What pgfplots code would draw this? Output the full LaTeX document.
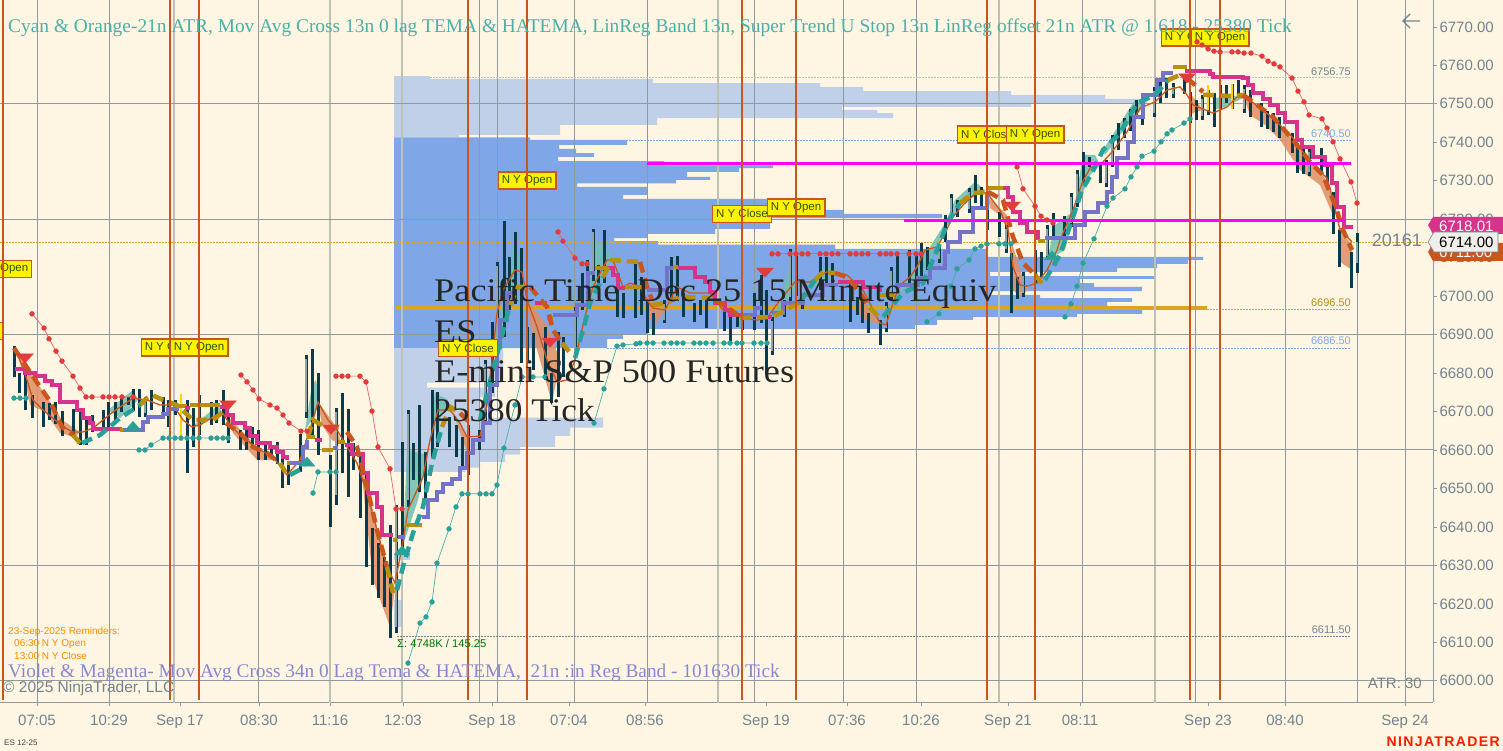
\documentclass[border=0pt]{standalone}
\usepackage{fontspec}
\usepackage{pgfplots}
\usepackage{pgfplotstable}
\pgfplotsset{compat=1.18}
\setmainfont{Liberation Sans}
\newfontfamily\serif{Liberation Serif}

\definecolor{bgc}{HTML}{FEF6E2}
\definecolor{gridd}{HTML}{8E9AA0}
\definecolor{gridl}{HTML}{BDC0B4}
\definecolor{tickc}{HTML}{73838F}
\definecolor{volb}{HTML}{7FA7E8}
\definecolor{voll}{HTML}{BFD0E8}
\definecolor{poc}{HTML}{DAA520}
\definecolor{cand}{HTML}{0B3A4A}
\definecolor{candg}{HTML}{8FA5A8}
\definecolor{sess}{HTML}{C9561F}
\definecolor{mag}{HTML}{D6338A}
\definecolor{vio}{HTML}{7373C9}
\definecolor{gold}{HTML}{B8900B}
\definecolor{tealc}{HTML}{2AA198}
\definecolor{redc}{HTML}{E33B3B}
\definecolor{peach}{HTML}{E08F62}
\definecolor{tealf}{HTML}{6FBFB0}
\definecolor{pure}{HTML}{FF00FF}
\definecolor{yel}{HTML}{FFD500}
\definecolor{boxt}{HTML}{2F5200}

\pgfplotsset{
  vbars/.style={draw=none, no marks, forget plot,
    error bars/y dir=both, error bars/y explicit, error bars/error mark=none,
    error bars/error bar style={#1}},
  stairm/.style={const plot, draw=mag, line width=4.5pt},
  stairv/.style={const plot, draw=vio, line width=4.5pt},
  stairg/.style={const plot, draw=gold, line width=4.5pt},
  dasho/.style={draw=sess, line width=4.5pt, dash pattern=on 11pt off 6pt},
  dasht/.style={draw=tealc, line width=4.5pt, dash pattern=on 11pt off 6pt},
  dashg/.style={draw=gold, line width=4.5pt, dash pattern=on 11pt off 6pt},
  reddots/.style={draw=redc!80, line width=.7pt, mark=*, mark size=2.3pt, mark options={fill=redc, draw=redc}},
  tealdots/.style={draw=tealc!85, line width=.7pt, mark=*, mark size=2.3pt, mark options={fill=tealc, draw=tealc}},
  fo/.style={fill=peach, draw=none, opacity=.85},
  ft/.style={fill=tealf, draw=none, opacity=.85},
  lvl/.style={line width=.8pt, dash pattern=on 1.5pt off 1.5pt},
}

% grid and session lines
\pgfplotstableread{
x lo hi
37 6594.35 6777
109 6594.35 6777
258 6594.35 6777
479 6594.35 6777
497 6594.35 6777
574 6594.35 6777
647 6594.35 6777
754 6594.35 6777
843 6594.35 6777
916 6594.35 6777
1082 6594.35 6777
1195 6594.35 6777
1285 6594.35 6777
1357 6594.35 6777
1405 6594.35 6777
}\griddark
\pgfplotstableread{
x lo hi
174 6594.35 6777
330 6594.35 6777
402 6594.35 6777
718 6594.35 6777
999 6594.35 6777
1155 6594.35 6777
}\gridlight
\pgfplotstableread{
x lo hi
3 6595 6777
170 6595 6777
199 6595 6777
468 6595 6777
527 6595 6777
742 6595 6777
796 6595 6777
987 6595 6777
1035 6595 6777
1190 6595 6777
1220 6595 6777
}\sessions

\pgfplotstableread{
x lo hi
14 6679.0 6687.3
19 6674.8 6680.0
25 6670.4 6680.8
32 6668.3 6674.3
43 6666.0 6672.5
49 6667.8 6672.2
55 6667.0 6672.5
62 6663.9 6670.4
73 6663.4 6670.9
80 6661.3 6669.9
86 6661.3 6668.6
92 6664.7 6669.1
103 6665.2 6670.4
108 6665.7 6672.5
115 6667.8 6672.5
121 6669.9 6673.8
128 6671.7 6673.8
133 6670.4 6676.1
139 6668.6 6676.1
145 6668.6 6673.8
151 6670.4 6675.6
163 6669.6 6673.8
168 6666.0 6673.0
175 6669.1 6673.0
187 6654.0 6673.0
193 6660.8 6670.9
199 6663.9 6674.3
211 6666.5 6672.5
216 6667.0 6673.0
223 6666.5 6675.6
228 6661.8 6669.6
240 6660.0 6665.2
246 6660.0 6665.2
252 6660.8 6666.0
258 6657.4 6665.2
265 6657.4 6661.8
271 6658.2 6661.3
277 6656.6 6662.1
282 6650.1 6660.0
288 6650.9 6656.9
300 6654.3 6664.4
306 6668.3 6684.7
312 6663.4 6686.5
318 6658.7 6680.0
330 6640.0 6658.7
336 6645.7 6670.9
342 6654.0 6674.8
348 6647.8 6670.9
353 6654.8 6661.8
360 6642.3 6659.5
366 6629.6 6654.0
372 6624.9 6639.7
378 6621.5 6635.8
384 6619.2 6632.2
390 6611.1 6640.5
396 6612.4 6645.7
402 6633.2 6662.1
408 6645.2 6670.4
413 6652.2 6661.8
419 6649.1 6671.7
425 6646.2 6659.5
432 6658.2 6675.6
437 6660.8 6675.1
449 6660.8 6668.6
456 6658.2 6666.5
462 6655.6 6663.4
468 6653.5 6666.5
479 6660.0 6665.2
485 6667.0 6683.4
492 6674.8 6693.3
497 6683.4 6708.9
504 6689.4 6719.5
509 6696.4 6710.2
515 6698.2 6716.7
521 6682.6 6712.5
527 6682.6 6692.0
533 6680.8 6690.4
545 6678.2 6692.0
551 6672.2 6680.0
558 6673.8 6690.7
563 6679.0 6689.4
575 6684.2 6697.2
582 6696.4 6706.0
587 6699.0 6709.4
593 6704.2 6717.7
598 6702.4 6708.1
604 6703.4 6717.2
617 6694.6 6702.4
623 6694.3 6700.8
635 6694.3 6708.6
641 6695.1 6705.0
647 6690.4 6699.0
653 6689.9 6695.6
664 6693.0 6699.0
671 6699.0 6710.2
677 6699.0 6710.7
683 6694.6 6700.8
694 6693.3 6698.2
700 6695.1 6699.0
706 6691.7 6699.0
724 6690.9 6697.2
730 6688.1 6695.6
737 6692.0 6694.6
742 6691.2 6694.6
754 6691.2 6700.8
761 6693.0 6705.5
766 6679.5 6701.6
772 6684.7 6694.6
784 6694.6 6699.0
790 6699.0 6712.5
796 6700.3 6711.2
802 6696.9 6699.0
820 6701.6 6710.2
826 6702.4 6710.2
832 6702.4 6708.6
850 6693.3 6703.4
857 6695.1 6699.8
862 6693.0 6699.8
868 6690.4 6695.6
880 6687.3 6693.8
886 6690.7 6698.5
891 6699.0 6707.6
897 6703.4 6711.5
909 6702.4 6712.0
916 6704.2 6710.7
921 6704.2 6713.8
927 6706.8 6712.8
939 6708.6 6712.8
945 6714.1 6721.1
951 6719.8 6726.6
957 6720.6 6725.0
969 6721.6 6728.1
975 6724.2 6731.5
981 6723.2 6728.4
987 6717.2 6725.0
999 6715.4 6721.9
1006 6711.2 6718.5
1011 6695.6 6711.2
1017 6699.5 6705.0
1023 6699.8 6706.3
1035 6703.4 6712.0
1041 6705.0 6711.5
1047 6709.4 6718.5
1053 6715.4 6721.6
1064 6715.4 6721.1
1071 6718.0 6726.8
1077 6723.2 6732.8
1083 6729.4 6737.5
1089 6733.6 6736.2
1100 6729.4 6734.1
1106 6728.4 6735.4
1112 6733.6 6741.9
1118 6738.0 6745.0
1124 6741.1 6746.3
1130 6743.2 6748.9
1136 6746.6 6751.0
1142 6744.5 6749.2
1154 6746.8 6754.4
1160 6750.2 6756.2
1166 6751.5 6756.7
1173 6751.5 6755.4
1184 6752.8 6756.7
1190 6745.0 6753.1
1196 6745.8 6751.0
1202 6745.8 6752.3
1208 6747.1 6753.6
1214 6744.0 6752.8
1220 6748.4 6754.9
1226 6750.2 6754.9
1232 6748.9 6755.4
1238 6751.5 6756.2
1244 6747.6 6754.9
1250 6746.6 6753.6
1261 6744.0 6750.2
1267 6743.7 6748.4
1273 6742.7 6747.6
1279 6741.1 6746.6
1292 6737.2 6742.4
1297 6732.0 6739.8
1303 6732.0 6739.3
1309 6731.2 6738.5
1321 6732.3 6738.5
1327 6729.4 6733.6
1333 6716.4 6727.1
1339 6707.6 6717.2
1351 6702.1 6711.5
1357 6706.0 6716.4
}\candles

\pgfplotstableread{
x lo hi
145 6669.6 6672.8
306 6670 6683.7
336 6648.5 6669.9
396 6614 6644.7
408 6647 6669.4
485 6668 6682.4
497 6685 6707.9
575 6685.5 6696.2
593 6705.5 6716.7
664 6694 6698
772 6685.7 6693.6
790 6700 6711.5
886 6691.7 6697.5
891 6700 6706.6
939 6709.6 6711.8
951 6720.8 6725.6
969 6722.6 6727.1
1006 6712.2 6717.5
1023 6700.8 6705.3
1035 6704.4 6711
1047 6710.4 6717.5
1071 6719 6725.8
1077 6724.2 6731.8
1106 6729.4 6734.4
1112 6734.6 6740.9
1154 6747.8 6753.4
1173 6752.5 6754.4
1202 6746.8 6751.3
1220 6749.4 6753.9
1244 6748.6 6753.9
1309 6732.2 6737.5
1357 6708.6 6714.1
}\bodies

\pgfplotstableread{
x lo hi
181 6662.3 6674.6
1208 6748.5 6754.9
1232 6748.9 6755.4
}\yellowbars

\begin{document}
\begin{tikzpicture}
\path[use as bounding box] (0,0) rectangle (1503pt,751pt);
\clip (0,0) rectangle (1503pt,751pt);
\fill[bgc] (0,0) rectangle (1503pt,751pt);
\begin{axis}[
    at={(0pt,48.5pt)}, anchor=south west,
    scale only axis, width=1433pt, height=702.5pt,
    xmin=0, xmax=1433, ymin=6594.35, ymax=6777,
    axis x line*=bottom, axis y line*=right,
    axis line style={draw=gridd, line width=1pt},
    tick style={draw=gridd, line width=.8pt},
    tick align=outside, major tick length=4pt,
    xtick={37,109,180,259,330,403,492,569,645,766,847,921,1008,1080,1208,1285,1405},
    xticklabels={07:05,10:29,Sep 17,08:30,11:16,12:03,Sep 18,07:04,08:56,Sep 19,07:36,10:26,Sep 21,08:11,Sep 23,08:40,Sep 24},
    ytick={6600,6610,...,6770},
    tick label style={font=\fontsize{15}{15}\selectfont, text=tickc},
    xticklabel style={yshift=-5pt},
    yticklabel style={xshift=-1pt},
    /pgf/number format/.cd, fixed, fixed zerofill, precision=2, 1000 sep={}, assume math mode=true,
]
% volume profile, upper and lower value area shades
\addplot[const plot mark right, fill=voll, draw=none] coordinates {
(394,6757.2)(430,6757.2)(653,6756.5)(820,6755.4)(863,6754.4)(1011,6753.3)(1105,6752.3)(1147,6751.3)(1031,6750.2)(842,6749.2)(877,6748.4)(893,6747.6)(657,6746.3)(560,6744.5)(459,6741.9)(394,6741.3)};
\addplot[const plot mark right, fill=volb, draw=none] coordinates {
(394,6741.3)(530,6741.3)(627,6740.6)(559,6739.3)(576,6738.3)(594,6737.2)(558,6736.2)(664,6735.1)(773,6734)(739,6733.3)(687,6732.3)(710,6731)(676,6730.2)(577,6729.3)(647,6728.4)(623,6726.3)(770,6725.3)(823,6724)(843,6722.4)(942,6721.4)(770,6720.3)(715,6717.5)(647,6716.2)(614,6715.1)(658,6714.3)(835,6713.4)(987,6712.3)(1203,6710.2)(1188,6709.4)(1157,6708.4)(1117,6707.3)(990,6706.3)(1154,6705.2)(1080,6704.5)(1094,6703.4)(1142,6702.4)(990,6701.3)(1040,6700.3)(1132,6699.5)(1107,6698.5)(1107,6697.2)(1142,6696.4)(1077,6695.4)(973,6694.6)(937,6693.8)(915,6692.5)(647,6691.5)(623,6690.2)(607,6688.9)(394,6686.5)};
\addplot[const plot mark right, fill=voll, draw=none] coordinates {
(394,6686.5)(503,6686.5)(427,6677.5)(495,6676.2)(480,6673.8)(603,6668.4)(570,6665.8)(555,6663.7)(520,6660.8)(505,6658.8)(480,6656.9)(465,6655.4)(394,6654.3)};
\addplot[const plot mark right, fill=voll, draw=none] coordinates {(394,6633.2)(410,6633.2)(394,6631.4)};
\addplot[const plot mark right, fill=voll, draw=none] coordinates {(394,6621)(402,6621)(394,6614)};
% point of control
\addplot[draw=poc, line width=4pt] coordinates {(395,6696.9)(1207,6696.9)};
% grid
\addplot[vbars={draw=gridd, line width=1pt}] table[x=x, y expr=(\thisrow{lo}+\thisrow{hi})/2, y error expr=(\thisrow{hi}-\thisrow{lo})/2] {\griddark};
\addplot[vbars={draw=gridl, line width=1.6pt}] table[x=x, y expr=(\thisrow{lo}+\thisrow{hi})/2, y error expr=(\thisrow{hi}-\thisrow{lo})/2] {\gridlight};
\addplot[draw=gridd, line width=1pt] coordinates {(0,6600)(1433,6600)};
\addplot[draw=gridd, line width=1pt] coordinates {(0,6630)(1433,6630)};
\addplot[draw=gridd, line width=1pt] coordinates {(0,6660)(1433,6660)};
\addplot[draw=gridd, line width=1pt] coordinates {(0,6690)(1433,6690)};
\addplot[draw=gridd, line width=1pt] coordinates {(0,6720)(1433,6720)};
\addplot[draw=gridd, line width=1pt] coordinates {(0,6750)(1433,6750)};
% key levels
\addplot[lvl, draw=poc] coordinates {(0,6714)(1433,6714)};
\addplot[lvl, draw=gridl] coordinates {(430,6756.75)(1351,6756.75)};
\addplot[lvl, draw=volb] coordinates {(530,6740.5)(1351,6740.5)};
\addplot[lvl, draw=poc] coordinates {(1207,6696.5)(1351,6696.5)};
\addplot[lvl, draw=volb] coordinates {(607,6686.5)(1351,6686.5)};
\addplot[lvl, draw=tickc] coordinates {(397,6611.5)(1351,6611.5)};
% band fills
\addplot[fo] coordinates {(15,6686.5)(40,6676.4)(62,6667.8)(80,6664.7)(75,6663.4)(60,6664.4)(45,6669.9)(30,6671.7)(24,6679.5)};
\addplot[fo] coordinates {(228,6668.6)(257,6660.8)(280,6656.6)(277,6657.4)(257,6657.4)(233,6664.4)};
\addplot[fo] coordinates {(318,6672.5)(335,6666.5)(342,6661.3)(332,6662.6)(322,6666.5)};
\addplot[fo] coordinates {(358,6660.8)(387,6628.8)(395,6624.1)(390,6614)(373,6626.2)(363,6650.4)};
\addplot[fo] coordinates {(453,6669.9)(469,6662.6)(467,6659.5)(460,6664.7)};
\addplot[fo] coordinates {(527,6699)(547,6692.5)(560,6683.4)(552,6672.2)(540,6683.4)(530,6692.5)};
\addplot[fo] coordinates {(647,6699)(665,6696.4)(655,6692.5)(650,6693.8)};
\addplot[fo] coordinates {(860,6699.5)(882,6692.5)(865,6693.8)(855,6696.4)};
\addplot[fo] coordinates {(1011,6714.6)(1025,6702.9)(1028,6701.6)(1020,6699.8)(1013,6701.6)};
\addplot[fo] coordinates {(988,6725.8)(1007,6721.1)(1010,6715.9)(1000,6721.1)(990,6722.9)};
\addplot[fo] coordinates {(1190,6752.8)(1203,6748.4)(1195,6747.9)(1190,6747.1)};
\addplot[fo] coordinates {(1243,6752.3)(1273,6746.6)(1293,6740.6)(1310,6734.9)(1325,6730.7)(1335,6723.7)(1335,6719.8)(1320,6728.9)(1300,6732.8)(1280,6740.6)(1265,6744.5)(1250,6747.1)};
\addplot[fo] coordinates {(1338,6717.7)(1352,6713.3)(1352,6706.8)(1340,6708.9)};
\addplot[ft] coordinates {(108,6670.4)(133,6675.6)(138,6673)(120,6668.3)};
\addplot[ft] coordinates {(192,6666)(218,6671.7)(222,6669.9)(200,6666.5)};
\addplot[ft] coordinates {(305,6665.2)(312,6676.9)(316,6678.2)(320,6672.5)(312,6667.8)};
\addplot[ft] coordinates {(403,6635.3)(407,6660)(428,6658.7)(418,6647)};
\addplot[ft] coordinates {(430,6662.6)(435,6674.8)(448,6673)(440,6667.8)};
\addplot[ft] coordinates {(494,6686)(505,6701.6)(515,6715.9)(520,6708.1)(505,6693.8)};
\addplot[ft] coordinates {(587,6701.6)(595,6714.6)(605,6713.3)(612,6709.9)(600,6704.2)(590,6697.7)};
\addplot[ft] coordinates {(775,6695.1)(790,6708.1)(795,6701.6)(785,6697.7)};
\addplot[ft] coordinates {(810,6702.9)(825,6708.1)(835,6706.8)(820,6702.9)};
\addplot[ft] coordinates {(893,6699)(925,6710.7)(945,6719)(955,6725)(975,6729.7)(985,6727.6)(960,6723.7)(945,6717.2)(925,6706.8)};
\addplot[ft] coordinates {(1047,6709.4)(1055,6718.5)(1075,6722.4)(1065,6712)};
\addplot[ft] coordinates {(1073,6721.1)(1083,6736.7)(1095,6736.7)(1100,6734.1)(1090,6731.5)(1080,6725)};
\addplot[ft] coordinates {(1103,6738)(1135,6751)(1145,6749.7)(1120,6741.9)(1105,6736.7)};
\addplot[ft] coordinates {(1213,6751.5)(1235,6752)(1243,6751.5)(1225,6749.2)(1213,6748.4)};
% candles
\addplot[vbars={draw=cand, line width=3pt}] table[x=x, y expr=(\thisrow{lo}+\thisrow{hi})/2, y error expr=(\thisrow{hi}-\thisrow{lo})/2] {\candles};
\addplot[vbars={draw=candg, line width=1.6pt}] table[x=x, y expr=(\thisrow{lo}+\thisrow{hi})/2, y error expr=(\thisrow{hi}-\thisrow{lo})/2] {\bodies};
\addplot[vbars={draw=yel, line width=2.6pt}] table[x=x, y expr=(\thisrow{lo}+\thisrow{hi})/2, y error expr=(\thisrow{hi}-\thisrow{lo})/2] {\yellowbars};
% fast average
\addplot[draw=sess, line width=1.3pt] coordinates {
(15,6686.5)(25,6680)(33,6673)(43,6670.4)(55,6667.8)(63,6666)(73,6664.7)(83,6664.7)(93,6665.7)(103,6667.8)(113,6669.9)(123,6671.7)(133,6673.5)(147,6673)(160,6671.7)(173,6671.7)(183,6667.8)(192,6666)(200,6666.5)(213,6668.6)(223,6669.6)(230,6666.5)(240,6663.9)(257,6660.5)(273,6658.2)(287,6653.5)(300,6657.4)(313,6667.8)(318,6672.5)(328,6667.8)(337,6665.2)(347,6660.8)(357,6656.6)(367,6648.8)(377,6639.2)(387,6629.6)(395,6625.4)(402,6634.8)(408,6644.4)(423,6653)(430,6662.6)(438,6670.4)(450,6670.4)(460,6667)(467,6663.4)(480,6663.6)(487,6671.7)(492,6683.4)(497,6695.6)(503,6701.6)(515,6706.8)(522,6706.3)(527,6699)(537,6692)(547,6683.4)(557,6677.7)(567,6678.2)(575,6683.4)(585,6694.6)(593,6702.4)(607,6709.4)(613,6709.4)(623,6702.4)(630,6703.4)(640,6702.4)(647,6699)(653,6696.9)(665,6696.4)(677,6702.4)(690,6700.8)(710,6700.8)(723,6696.4)(743,6694.3)(757,6693.8)(767,6694.3)(780,6699)(795,6703.7)(810,6703.7)(827,6706.3)(847,6705.5)(863,6701.6)(880,6693)(886,6692.5)(893,6698.2)(900,6702.9)(910,6705)(917,6707.6)(925,6712)(937,6712.8)(945,6716.4)(953,6720.6)(963,6723.7)(977,6727.1)(987,6726.8)(1000,6722.4)(1008,6717.2)(1013,6707.6)(1020,6702.9)(1027,6702.6)(1037,6703.4)(1047,6706.8)(1057,6712)(1060,6714.6)(1073,6722.4)(1082,6729.4)(1090,6733.3)(1102,6734.6)(1112,6737.5)(1127,6742.7)(1140,6748.9)(1155,6750.5)(1167,6753.6)(1180,6754.4)(1187,6752.3)(1193,6749.7)(1213,6747.6)(1227,6749.2)(1237,6751.8)(1247,6751.5)(1273,6746.3)(1293,6741.1)(1310,6734.9)(1327,6730.7)(1333,6725)(1340,6717.2)(1352,6714.1)};
% slow stair band
\addplot[stairm] coordinates {(15,6681.1)(25,6680)(35,6679.2)(45,6677.9)(52,6676.9)(60,6672.5)(77,6670.4)(83,6668.3)(90,6667)(93,6665.5)(120,6665.2)};
\addplot[stairg] coordinates {(120,6665.2)(123,6665.2)};
\addplot[stairv] coordinates {(123,6665.2)(143,6667.3)(148,6668.6)(163,6669.4)(168,6670.7)(177,6670.9)};
\addplot[stairg] coordinates {(177,6671.4)(187,6671.4)};
\addplot[stairm] coordinates {(185,6670.9)(190,6670.9)};
\addplot[stairg] coordinates {(190,6671.7)(220,6671.7)};
\addplot[stairm] coordinates {(220,6671.2)(227,6669.1)(233,6667)(245,6665.7)(250,6663.6)(257,6661.8)(270,6660.8)(277,6659.5)(283,6658.2)(287,6657.4)};
\addplot[stairg] coordinates {(287,6656.6)(290,6656.6)};
\addplot[stairv] coordinates {(290,6656.6)(303,6660.8)(307,6662.6)};
\addplot[stairg] coordinates {(307,6663.4)(315,6663.4)};
\addplot[stairm] coordinates {(315,6662.6)(322,6662.6)};
\addplot[stairg] coordinates {(322,6660)(333,6660)};
\addplot[stairv] coordinates {(333,6660.5)(338,6660.5)};
\addplot[stairg] coordinates {(338,6662.1)(345,6662.1)};
\addplot[stairm] coordinates {(345,6661.3)(352,6659)(363,6654)(368,6648.8)(377,6645.2)(382,6637.9)(393,6637.9)};
\addplot[stairg] coordinates {(393,6636.6)(398,6636.6)};
\addplot[stairv] coordinates {(398,6637.4)(405,6637.4)};
\addplot[stairg] coordinates {(405,6640.5)(422,6640.5)};
\addplot[stairv] coordinates {(422,6642.6)(428,6647)(437,6649.1)(443,6651.2)(452,6652.5)(460,6655.3)(467,6659.2)(473,6662.6)(483,6667)(490,6676.9)(497,6686.8)(500,6693.8)(507,6700.8)(515,6700.8)};
\addplot[stairm] coordinates {(535,6698.2)(547,6698.2)};
\addplot[stairg] coordinates {(547,6694.3)(553,6694.3)};
\addplot[stairv] coordinates {(553,6695.1)(577,6697.7)(588,6706)(595,6706)};
\addplot[stairg] coordinates {(595,6707.3)(607,6707.3)};
\addplot[stairm] coordinates {(607,6707.3)(613,6705.5)(618,6702.1)(625,6702.1)};
\addplot[stairg] coordinates {(625,6702.4)(647,6702.4)};
\addplot[stairv] coordinates {(647,6701.6)(667,6707.3)(673,6707.3)};
\addplot[stairg] coordinates {(673,6707.6)(678,6707.6)};
\addplot[stairm] coordinates {(678,6707.3)(695,6705)(705,6703.7)(710,6701.1)(715,6698.2)(725,6696.4)(730,6695.1)(743,6695.1)};
\addplot[stairv] coordinates {(743,6695.1)(755,6696.9)(762,6696.9)};
\addplot[stairm] coordinates {(762,6694.6)(772,6694.6)};
\addplot[stairv] coordinates {(772,6695.6)(783,6698.2)(803,6700.3)(823,6702.9)(838,6702.9)};
\addplot[stairm] coordinates {(838,6703.7)(863,6702.4)(880,6701.1)};
\addplot[stairg] coordinates {(880,6700.3)(895,6700.3)};
\addplot[stairv] coordinates {(895,6702.9)(918,6704.7)(930,6707.3)(945,6711.5)(948,6714.1)(960,6716.7)(973,6722.9)(987,6726.8)};
\addplot[stairg] coordinates {(987,6728.1)(1003,6728.1)};
\addplot[stairm] coordinates {(1003,6728.1)(1008,6725.8)(1013,6721.9)(1020,6719)(1027,6716.7)(1038,6714.6)};
\addplot[stairg] coordinates {(1038,6714.3)(1045,6714.3)};
\addplot[stairv] coordinates {(1045,6715.1)(1075,6718.5)(1085,6721.9)(1098,6724.2)(1107,6727.1)(1112,6731)(1117,6735.9)(1128,6740.1)(1134,6746.6)(1143,6752.3)(1157,6756.2)(1163,6758)(1173,6758)};
\addplot[stairg] coordinates {(1173,6759.6)(1187,6759.6)};
\addplot[stairm] coordinates {(1185,6758.5)(1210,6757.8)(1213,6757)(1243,6756.7)(1248,6754.9)(1253,6752.8)(1263,6751.3)(1270,6749.7)(1278,6747.6)(1285,6745.3)(1297,6740.6)(1302,6738.8)(1313,6736.2)(1325,6734.1)(1332,6729.4)(1337,6723.2)(1344,6718)(1353,6718)};
% dashed average
\addplot[dasho] coordinates {(14,6686.5)(40,6676.4)(50,6672.7)(62,6666)(73,6663.9)};
\addplot[dashg] coordinates {(73,6663.9)(80,6661.8)};
\addplot[dasht] coordinates {(82,6661.8)(100,6663.9)(120,6668.3)(140,6671.7)};
\addplot[dashg] coordinates {(140,6671.7)(147,6673.5)(152,6674.3)(163,6673)(177,6671.7)(193,6667.8)(213,6667.8)(223,6669.9)};
\addplot[dasho] coordinates {(226,6667)(240,6664.4)(253,6660.8)(267,6659.2)(280,6656.6)};
\addplot[dashg] coordinates {(280,6656.6)(287,6653.5)};
\addplot[dasht] coordinates {(290,6653.5)(305,6655.6)};
\addplot[dashg] coordinates {(308,6663.4)(313,6667.8)(325,6666)(340,6666)};
\addplot[dasho] coordinates {(347,6664.7)(357,6660.8)(367,6650.4)(377,6639.2)(387,6629.6)};
\addplot[dashg] coordinates {(387,6629.6)(393,6622.8)};
\addplot[dasht] coordinates {(397,6623.6)(403,6629.6)(413,6638.4)(423,6645.2)(432,6656.6)(442,6666)};
\addplot[dashg] coordinates {(442,6666)(450,6671.2)(460,6669.6)};
\addplot[dasho] coordinates {(460,6669.6)(470,6667)};
\addplot[dasht] coordinates {(480,6667.8)(487,6674.8)(500,6687.8)(510,6697.7)};
\addplot[dashg] coordinates {(510,6697.7)(518,6702.4)(530,6702.4)};
\addplot[dasho] coordinates {(530,6702.4)(547,6697.2)(553,6691.2)(562,6687.8)};
\addplot[dashg] coordinates {(562,6687.8)(572,6684.7)};
\addplot[dasht] coordinates {(575,6683.9)(583,6691.2)(590,6698.2)(603,6705)};
\addplot[dashg] coordinates {(603,6705)(612,6709.4)(640,6708.9)};
\addplot[dasho] coordinates {(640,6708.9)(647,6702.4)(652,6699)};
\addplot[dashg] coordinates {(652,6697.7)(665,6698.2)(680,6699.8)(710,6699.5)};
\addplot[dasho] coordinates {(715,6699)(727,6697.2)(740,6694.6)};
\addplot[dashg] coordinates {(740,6694.3)(773,6694.6)(800,6698.5)};
\addplot[dasht] coordinates {(800,6698.5)(815,6704.2)};
\addplot[dashg] coordinates {(815,6704.2)(823,6706.3)(835,6706)};
\addplot[dasho] coordinates {(835,6706)(847,6705)(860,6700.8)(870,6696.9)};
\addplot[dashg] coordinates {(870,6696.9)(880,6694.3)};
\addplot[dasht] coordinates {(883,6694.6)(903,6700.8)(923,6703.4)(940,6713.8)(947,6719)(960,6724.2)};
\addplot[dashg] coordinates {(960,6724.2)(973,6726.8)(988,6727.1)};
\addplot[dasho] coordinates {(988,6727.1)(1003,6725)(1013,6715.4)(1023,6708.6)(1035,6705.5)};
\addplot[dashg] coordinates {(1035,6705.5)(1042,6703.4)};
\addplot[dasht] coordinates {(1045,6704.2)(1060,6710.7)(1073,6720.6)(1082,6727.6)(1092,6732)(1103,6738)(1120,6742.4)(1137,6750.2)(1155,6752.3)(1168,6756.2)};
\addplot[dashg] coordinates {(1168,6756.2)(1180,6757.5)};
\addplot[dasho] coordinates {(1187,6756.7)(1203,6753.1)};
\addplot[dashg] coordinates {(1203,6752.3)(1210,6752.3)(1233,6752)(1243,6752.3)};
\addplot[dasho] coordinates {(1243,6752.3)(1253,6750.5)(1273,6746.6)(1293,6740.6)(1310,6734.9)(1323,6731.5)(1335,6723.7)(1343,6717.2)(1352,6712)};
% stop dots
\addplot[reddots] coordinates {(32,6695.4)(44,6691.7)(49,6688.9)(56,6685.7)(62,6683.1)(73,6679.2)(80,6676.1)(86,6673.8)(92,6673.8)(103,6673.8)(109,6673.8)(115,6673.8)(122,6673.8)(133,6673.8)};
\addplot[reddots] coordinates {(241,6679.5)(247,6677.7)(253,6675.6)(259,6673.3)(270,6671.7)(277,6670.9)(283,6669.1)(289,6667)(301,6664.9)(307,6664.9)};
\addplot[reddots] coordinates {(336,6679.2)(342,6679.2)(348,6679.2)(360,6679.2)(366,6677.7)(372,6670.1)(378,6660.8)(390,6655.1)(396,6644.7)(402,6644.7)};
\addplot[reddots] coordinates {(558,6716.7)(563,6714.3)(575,6709.9)(582,6708.4)(587,6708.4)};
\addplot[reddots] coordinates {(772,6711)(778,6711)(790,6711)(796,6711)(802,6711)(808,6711)(820,6711)(826,6711)(832,6711)(838,6711)(850,6711)(856,6711)(862,6711)(868,6711)(880,6711)(886,6711)(891,6711)(897,6711)(909,6711)(916,6711)(921,6711)};
\addplot[reddots] coordinates {(1017,6733.6)(1023,6727.9)(1035,6723.4)(1041,6720.8)(1047,6719.8)(1053,6719)};
\addplot[reddots] coordinates {(1197,6766.1)(1202,6765.3)(1208,6764.3)(1214,6763.7)(1220,6763.5)(1232,6763.5)(1238,6763.5)(1244,6763.2)(1251,6763.2)(1262,6762.4)(1268,6761.1)(1274,6760.4)(1280,6759.6)(1292,6756.7)(1298,6753.3)(1304,6750.5)(1309,6747.1)(1322,6746.1)(1327,6743.7)(1333,6740.1)(1340,6735.7)(1351,6729.7)(1357,6724.2)};
\addplot[tealdots] coordinates {(14,6673.5)(20,6673.5)(26,6673.5)};
\addplot[tealdots] coordinates {(139,6660)(145,6660)(151,6661.3)(163,6663.1)(169,6663.1)(175,6663.1)(181,6663.1)(187,6663.1)(193,6663.1)(199,6663.1)(211,6663.1)(217,6663.1)(223,6663.1)(228,6663.1)};
\addplot[tealdots] coordinates {(313,6648.8)(318,6654.3)(330,6654.3)(336,6654.3)};
\addplot[tealdots] coordinates {(408,6604.6)(420,6615)(426,6616.6)(432,6620.5)(437,6630.6)(449,6639.5)(456,6645.2)(462,6648.6)(468,6648.6)(480,6648.6)(486,6648.6)(492,6648.6)(497,6650.9)(504,6660.5)(515,6671.7)(522,6679)(533,6679)(545,6679)};
\addplot[tealdots] coordinates {(594,6667)(604,6675.9)(617,6687)(623,6687.3)(636,6687.6)(640,6687.8)(647,6687.8)(653,6687.8)(664,6687.8)(671,6687.8)(677,6687.8)(683,6687.8)(694,6687.8)(700,6687.8)(706,6687.8)(713,6687.8)(724,6687.8)(730,6687.8)(737,6687.8)(742,6687.8)(754,6687.8)(761,6687.8)(767,6687.8)};
\addplot[tealdots] coordinates {(927,6693.3)(939,6695.4)(951,6702.6)(957,6707.1)(969,6709.4)(975,6712.3)(981,6713)(987,6713.6)(999,6713.6)(1005,6713.6)(1011,6713.6)};
\addplot[tealdots] coordinates {(1065,6694.6)(1071,6698)(1077,6702.6)(1083,6708.6)(1094,6714.9)(1107,6723.4)(1113,6725.5)(1125,6727.9)(1131,6731)(1137,6733.6)(1142,6736.4)(1154,6737.7)(1161,6740.1)(1167,6742.2)(1172,6743.2)(1184,6745)(1190,6746.1)};
% signal triangles
\addplot[only marks, mark=triangle*, mark size=6pt, mark options={rotate=180, xscale=1.6, fill=redc, draw=redc}] coordinates {(25,6684.2)(228,6672)(331,6665.7)(550,6688.3)(765,6706.5)(1012,6723.7)(1187,6757)};
\addplot[only marks, mark=triangle*, mark size=6pt, mark options={xscale=1.5, fill=tealc, draw=tealc}] coordinates {(133,6665.9)(307,6656.6)(402,6633.5)(1052,6710.2)};
% levels drawn on top
\addplot[draw=pure, line width=3pt] coordinates {(647,6734.4)(1351,6734.4)};
\addplot[draw=pure, line width=3pt] coordinates {(904,6719.7)(1345,6719.7)};
% session labels
\tikzset{ny/.style={draw=sess, line width=1.5pt, fill=yellow, text=boxt, inner xsep=3.5pt, inner ysep=0pt, minimum height=17pt, font=\fontsize{11.5}{11.5}\selectfont}}
\node[ny] at (axis cs:3,6707.1) {N Y Open};
\node[ny] at (axis cs:-25,6691) {N Y Open};
\node[ny] at (axis cs:170,6686.7) {N Y Open};
\node[ny] at (axis cs:199,6686.7) {N Y Open};
\node[ny] at (axis cs:468,6686.5) {N Y Close};
\node[ny] at (axis cs:527,6730.1) {N Y Open};
\node[ny] at (axis cs:742,6721.4) {N Y Close};
\node[ny] at (axis cs:796,6723.1) {N Y Open};
\node[ny] at (axis cs:987,6742) {N Y Close};
\node[ny] at (axis cs:1035,6742) {N Y Open};
\node[ny] at (axis cs:1190,6767.2) {N Y Open};
\node[ny] at (axis cs:1220,6767.2) {N Y Open};
\addplot[vbars={draw=sess, line width=1.6pt}] table[x=x, y expr=(\thisrow{lo}+\thisrow{hi})/2, y error expr=(\thisrow{hi}-\thisrow{lo})/2] {\sessions};
\end{axis}
\begin{scope}[x=1pt, y=-1pt, shift={(0pt,751pt)}]
  % price tags
  \fill[sess] (1428,252) -- (1433,243) -- (1503,243) -- (1503,261) -- (1433,261) -- cycle;
  \node[anchor=west, text=white, inner sep=0pt, font=\fontsize{15}{15}\selectfont] at (1439,252) {6711.00};
  \fill[mag] (1428,225) -- (1433,217) -- (1503,217) -- (1503,234) -- (1433,234) -- cycle;
  \node[anchor=west, text=white, inner sep=0pt, font=\fontsize{15}{15}\selectfont] at (1439,226) {6718.01};
  \fill[fill=bgc!60!gray!30, draw=tickc, line width=.6pt] (1428,242) -- (1434,232) -- (1498,232) -- (1498,252) -- (1434,252) -- cycle;
  \node[anchor=west, text=black, inner sep=0pt, font=\fontsize{15}{15}\selectfont] at (1439,242) {6714.00};
  % level captions
  \tikzset{capt/.style={anchor=east, inner sep=0pt, font=\fontsize{11}{11}\selectfont}}
  \node[capt, text=tickc] at (1351,72) {6756.75};
  \node[capt, text=volb] at (1351,134) {6740.50};
  \node[capt, text=poc!85!black] at (1351,303) {6696.50};
  \node[capt, text=volb] at (1351,341) {6686.50};
  \node[capt, text=tickc] at (1351,630) {6611.50};
  % overlays
  \node[anchor=west, inner sep=0pt, text=tealc!85, font=\serif\fontsize{19.4}{20}\selectfont] at (8,28) {Cyan \& Orange-21n ATR, Mov Avg Cross 13n 0 lag TEMA \& HATEMA, LinReg Band 13n, Super Trend U Stop 13n LinReg offset 21n ATR @ 1.618 - 25380 Tick};
  \tikzset{bigt/.style={anchor=west, inner sep=0pt, text=black!85, font=\serif\fontsize{33}{33}\selectfont}}
  \node[bigt] at (434,293) {\scalebox{1.1}[1]{Pacific Time\ \ Dec 25 15 Minute Equiv}};
  \node[bigt] at (434,332) {\scalebox{1.1}[1]{ES}};
  \node[bigt] at (434,372) {\scalebox{1.1}[1]{E-mini S\&P 500 Futures}};
  \node[bigt] at (434,410) {\scalebox{1.07}[1]{25380 Tick}};
  \node[anchor=west, inner sep=0pt, text=vio!85, font=\serif\fontsize{19.3}{20}\selectfont] at (8,673) {Violet \& Magenta- Mov Avg Cross 34n 0 Lag Tema \& HATEMA,~ 21n :in Reg Band - 101630 Tick};
  \node[anchor=west, inner sep=0pt, text=tickc, font=\fontsize{15.5}{16}\selectfont] at (3,688) {© 2025 NinjaTrader, LLC};
  \tikzset{remi/.style={anchor=west, inner sep=0pt, text=orange!90!yellow, font=\fontsize{10}{10}\selectfont}}
  \node[remi] at (8,632) {23-Sep-2025 Reminders:};
  \node[remi] at (14,644) {06:30 N Y Open};
  \node[remi] at (14,656) {13:00 N Y Close};
  \node[anchor=west, inner sep=0pt, text=green!45!black, font=\fontsize{11.2}{11.5}\selectfont] at (397,644) {Σ: 4748K / 145.25};
  \node[anchor=east, inner sep=0pt, text=tickc, font=\fontsize{15}{15}\selectfont] at (1422,683) {ATR: 30};
  \node[anchor=east, inner sep=0pt, text=tickc, font=\fontsize{18}{18}\selectfont] at (1422,240) {20161};
  \node[anchor=west, inner sep=0pt, text=black!75, font=\fontsize{8}{8}\selectfont] at (4,743) {ES 12-25};
  \node[anchor=east, inner sep=0pt, text=red!80!orange, font=\bfseries\fontsize{14}{14}\selectfont\addfontfeature{LetterSpace=10}] at (1500,742) {NINJATRADER};
  \draw[tickc, line width=1.2pt] (1420,21) -- (1403,21) (1410,14) -- (1403,21) -- (1410,28);
\end{scope}
\end{tikzpicture}
\end{document}
